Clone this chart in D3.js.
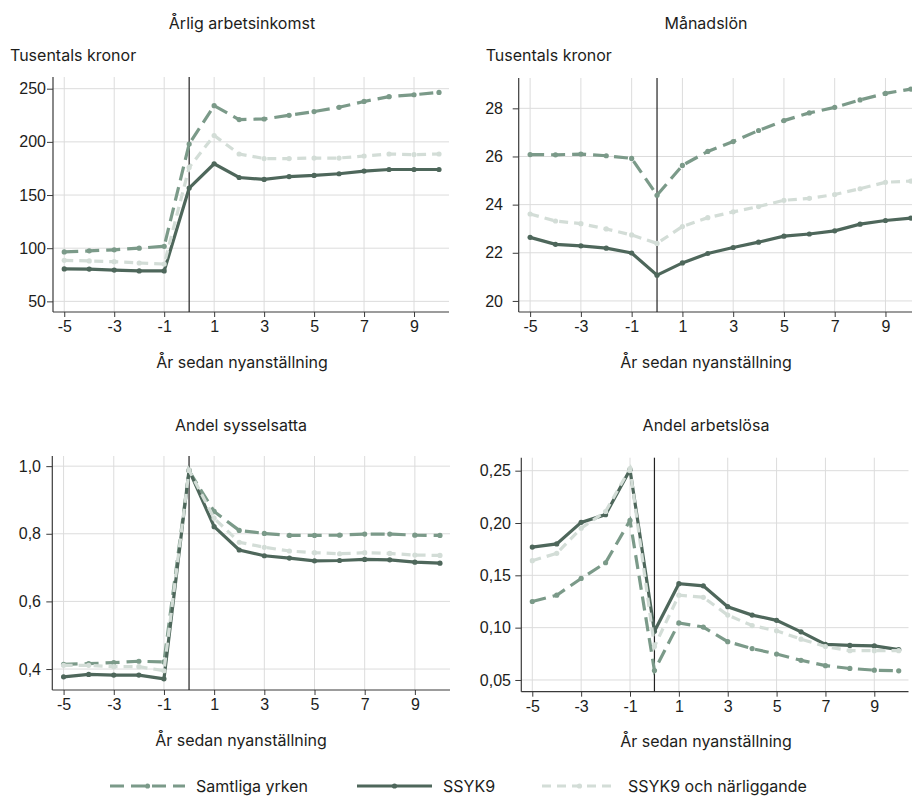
<!DOCTYPE html>
<html>
<head>
<meta charset="utf-8">
<script src="https://cdn.jsdelivr.net/npm/d3@7"></script>
<style>
  body { margin: 0; background: #fff; }
  svg { display: block; font-family: Inter, "Liberation Sans", sans-serif; }
</style>
</head>
<body>
<svg id="chart" width="912" height="806"></svg>
<script>
// år relativt nyanställning
var years = [-5, -4, -3, -2, -1, 0, 1, 2, 3, 4, 5, 6, 7, 8, 9, 10];
var xTicks = [-5, -3, -1, 1, 3, 5, 7, 9];

var seriesNames = ['Samtliga yrken', 'SSYK9', 'SSYK9 och närliggande'];

// Årlig arbetsinkomst, tusentals kronor
var inkomstSamtliga = [96.5, 97.5, 98.5, 100, 101.8, 198, 234, 221, 221.5, 225, 228.5, 232.5, 238, 242.5, 244.3, 246.5];
var inkomstSsyk9    = [80.5, 80.4, 79.4, 78.6, 78.6, 156.5, 179.4, 166.5, 164.7, 167.4, 168.4, 170, 172.5, 174, 174, 174];
var inkomstNara     = [88.6, 88, 87.3, 86.1, 85.1, 176, 206, 188.6, 184.3, 184.3, 184.8, 184.8, 186.7, 188.6, 188, 188.6];
var inkomstTicks = [50, 100, 150, 200, 250];

// Månadslön, tusentals kronor
var lonSamtliga = [26.08, 26.07, 26.1, 26.03, 25.92, 24.39, 25.63, 26.21, 26.62, 27.08, 27.49, 27.81, 28.04, 28.35, 28.62, 28.8];
var lonSsyk9    = [22.64, 22.35, 22.29, 22.19, 21.99, 21.07, 21.58, 21.97, 22.22, 22.44, 22.69, 22.78, 22.91, 23.19, 23.34, 23.44];
var lonNara     = [23.61, 23.32, 23.21, 22.99, 22.74, 22.39, 23.09, 23.46, 23.7, 23.92, 24.18, 24.26, 24.42, 24.66, 24.93, 24.98];
var lonTicks = [20, 22, 24, 26, 28];

// Andel sysselsatta
var syssSamtliga = [0.414, 0.416, 0.419, 0.423, 0.421, 0.986, 0.866, 0.81, 0.801, 0.795, 0.795, 0.796, 0.799, 0.799, 0.796, 0.795];
var syssSsyk9    = [0.377, 0.384, 0.382, 0.382, 0.371, 0.988, 0.821, 0.752, 0.735, 0.728, 0.72, 0.721, 0.724, 0.723, 0.716, 0.713];
var syssNara     = [0.411, 0.411, 0.407, 0.407, 0.395, 0.988, 0.846, 0.775, 0.76, 0.749, 0.744, 0.741, 0.744, 0.742, 0.737, 0.736];
var syssTicks = [0.4, 0.6, 0.8, 1.0];

// Andel arbetslösa
var arblSamtliga = [0.125, 0.131, 0.147, 0.162, 0.2025, 0.059, 0.1045, 0.1006, 0.0866, 0.08, 0.0748, 0.0688, 0.0637, 0.061, 0.0594, 0.0587];
var arblSsyk9    = [0.177, 0.18, 0.2006, 0.208, 0.251, 0.0965, 0.142, 0.14, 0.12, 0.112, 0.107, 0.096, 0.084, 0.083, 0.0825, 0.079];
var arblNara     = [0.164, 0.171, 0.195, 0.211, 0.252, 0.082, 0.131, 0.129, 0.112, 0.102, 0.097, 0.089, 0.082, 0.078, 0.078, 0.078];
var arblTicks = [0.05, 0.10, 0.15, 0.20, 0.25];

var colors = ['#7b9a89', '#4e675b', '#d3ddd7'];
var dashes = ['14,7', null, '9,6'];
var drawOrder = [0, 1, 2];

var sv = d3.formatLocale({ decimal: ',', thousands: '\u00a0', grouping: [3], currency: ['', ' kr'] });

var panels = [
  { title: 'Årlig arbetsinkomst', unit: 'Tusentals kronor', data: [inkomstSamtliga, inkomstSsyk9, inkomstNara],
    ticks: inkomstTicks, ydom: [40, 261], fmt: sv.format('d'),
    left: 53, right: 449, top: 77, bottom: 312, labelEnd: 46, cx: 242, titleY: 23 },
  { title: 'Månadslön', unit: 'Tusentals kronor', data: [lonSamtliga, lonSsyk9, lonNara],
    ticks: lonTicks, ydom: [19.54, 29.26], fmt: sv.format('d'),
    left: 518.7, right: 921, top: 78, bottom: 312, labelEnd: 503, cx: 706, titleY: 23 },
  { title: 'Andel sysselsatta', unit: null, data: [syssSamtliga, syssSsyk9, syssNara],
    ticks: syssTicks, ydom: [0.338, 1.03], fmt: sv.format('.1f'),
    left: 52.3, right: 450, top: 456, bottom: 690, labelEnd: 41, cx: 241, titleY: 425 },
  { title: 'Andel arbetslösa', unit: null, data: [arblSamtliga, arblSsyk9, arblNara],
    ticks: arblTicks, ydom: [0.0388, 0.2624], fmt: sv.format('.2f'),
    left: 521.3, right: 908.5, top: 457.7, bottom: 691.7, labelEnd: 511, cx: 706, titleY: 425 }
];

var svg = d3.select('#chart');
var txtColor = '#1d1d1b';

panels.forEach(function(p, i) {
  var x = d3.scaleLinear().domain([-5.45, 10.4]).range([p.left, p.right]);
  var y = d3.scaleLinear().domain(p.ydom).range([p.bottom, p.top]);
  var g = svg.append('g').attr('class', 'panel panel-' + i);

  g.append('text').attr('x', p.cx).attr('y', p.titleY).attr('dy', '0.35em')
    .attr('text-anchor', 'middle').attr('font-size', 16).attr('fill', txtColor).text(p.title);

  if (p.unit) {
    g.append('text').attr('x', p.left - 43 + (i == 1 ? 10 : 0)).attr('y', 55).attr('dy', '0.35em')
      .attr('font-size', 16).attr('fill', txtColor).text(p.unit);
  }

  // rutnät
  g.append('g').selectAll('line').data(xTicks).join('line')
    .attr('x1', function(d) { return x(d); }).attr('x2', function(d) { return x(d); })
    .attr('y1', p.top).attr('y2', p.bottom)
    .attr('stroke', '#dcdcdc').attr('stroke-width', 1);
  g.append('g').selectAll('line').data(p.ticks).join('line')
    .attr('x1', p.left).attr('x2', p.right)
    .attr('y1', function(d) { return y(d); }).attr('y2', function(d) { return y(d); })
    .attr('stroke', '#dcdcdc').attr('stroke-width', 1);

  // axlar
  var ax = g.append('g').attr('transform', 'translate(0,' + p.bottom + ')')
    .call(d3.axisBottom(x).tickValues(xTicks).tickSize(5).tickPadding(8).tickFormat(function(d) { return String(d); }));
  var ay = g.append('g').attr('transform', 'translate(' + p.left + ',0)')
    .call(d3.axisLeft(y).tickValues(p.ticks).tickSize(6).tickPadding(p.left - 6 - p.labelEnd).tickFormat(p.fmt));
  [ax, ay].forEach(function(a) {
    a.select('.domain').attr('stroke', '#3a3a3a').attr('stroke-width', 1.2)
      .attr('d', a === ax ? 'M' + p.left + ',0H' + p.right : 'M0,' + p.top + 'V' + p.bottom);
    a.selectAll('.tick line').attr('stroke', '#3a3a3a');
    a.selectAll('.tick text').attr('font-size', 16).attr('fill', txtColor).attr('font-family', null);
  });
  ax.selectAll('.tick text').attr('dy', '0.45em');

  g.append('text').attr('x', p.cx).attr('y', p.bottom + 50).attr('dy', '0.35em')
    .attr('text-anchor', 'middle').attr('font-size', 16).attr('fill', txtColor).text('År sedan nyanställning');

  // nyanställning
  g.append('line').attr('x1', x(0)).attr('x2', x(0)).attr('y1', p.top).attr('y2', p.bottom)
    .attr('stroke', '#222').attr('stroke-width', 1.2);

  var line = d3.line().x(function(d, j) { return x(years[j]); }).y(function(d) { return y(d); });
  drawOrder.forEach(function(k) {
    var s = p.data[k];
    g.append('path').datum(s).attr('d', line).attr('fill', 'none')
      .attr('stroke', colors[k]).attr('stroke-width', 3.2)
      .attr('stroke-dasharray', dashes[k]);
    g.append('g').selectAll('circle').data(s).join('circle')
      .attr('cx', function(d, j) { return x(years[j]); }).attr('cy', function(d) { return y(d); })
      .attr('r', 2.6).attr('fill', colors[k]);
  });
});

// förklaring
var legendX = [110, 357, 542];
var leg = svg.append('g').attr('class', 'legend');
seriesNames.forEach(function(name, k) {
  var lx = legendX[k], ly = 786;
  leg.append('line').attr('x1', lx).attr('x2', lx + 75).attr('y1', ly).attr('y2', ly)
    .attr('stroke', colors[k]).attr('stroke-width', 3.2).attr('stroke-dasharray', dashes[k]);
  leg.append('circle').attr('cx', lx + 37.5).attr('cy', ly).attr('r', 2.6).attr('fill', colors[k]);
  leg.append('text').attr('x', lx + 86).attr('y', ly).attr('dy', '0.35em')
    .attr('font-size', 16).attr('fill', txtColor).text(name);
});
</script>
</body>
</html>
